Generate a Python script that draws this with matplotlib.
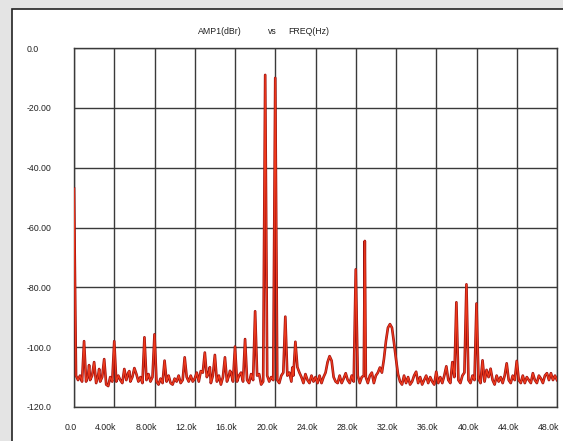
import numpy as np
import matplotlib
matplotlib.use("Agg")
import matplotlib.pyplot as plt
from matplotlib.patches import Rectangle
from matplotlib.transforms import ScaledTranslation

plt.rcParams['font.family'] = ['Liberation Sans', 'DejaVu Sans']

# Nivel de ruido de fondo (dBr), una muestra cada 200 Hz, de 0 a 48 kHz
noise_floor = [
    # 0.0k - 3.8k
    -110, -109.5, -111, -109.5, -111.5, -110, -111.5, -109.5, -111, -109.5,
    -111, -112, -109.5, -111.5, -110, -112, -112.5, -113, -110, -111.5,
    # 4.0k - 7.8k
    -110, -111.5, -109.5, -111, -112, -109.5, -111, -108.5, -111.5, -110,
    -112, -109, -111.5, -110, -112, -109.5, -111, -109, -111.5, -110,
    # 8.0k - 11.8k
    -110, -111.5, -112.5, -110.5, -112, -109, -111.5, -109.5, -112, -112.5,
    -110.5, -111.5, -109.5, -112, -111, -112.5, -110, -111.5, -109.5, -111.5,
    # 12.0k - 15.8k
    -110.5, -108.5, -111.5, -109.5, -108.5, -111.5, -110, -108.5, -112, -109.5,
    -108.5, -111.5, -109.5, -112.5, -110, -108.5, -111.5, -109.5, -108.5, -111.5,
    # 16.0k - 19.8k
    -110, -111.5, -109.5, -108.5, -111.5, -109.5, -111, -112, -109, -111,
    -111.5, -109.5, -109, -112.5, -111.5, -110, -109.5, -111.5, -110, -111,
    # 20.0k - 23.8k
    -110, -111, -112, -109.5, -108.5, -111, -109.5, -108.5, -111.5, -109.5,
    -111, -106.7, -108.5, -110, -112, -109, -111, -112, -109.5, -111.5,
    # 24.0k - 27.8k
    -110, -112, -109.5, -112, -110, -108.5, -105, -103, -104.5, -110,
    -111.5, -112, -109.5, -112, -110.5, -108.7, -111, -112, -109.5, -111.5,
    # 28.0k - 31.8k
    -110, -109.5, -112, -110, -109.5, -110, -112, -109.5, -108.5, -112,
    -109.5, -108.5, -106.8, -108.5, -104, -98, -93.5, -92.3, -93.5, -98.5,
    # 32.0k - 35.8k
    -104, -109, -111.5, -112.5, -109.5, -112, -110, -112.5, -111.5, -109.5,
    -108.2, -112, -110, -112.5, -111, -109.5, -112, -110, -111.5, -112.5,
    # 36.0k - 39.8k
    -108.2, -112, -110, -112, -109.5, -106.4, -111, -112, -105, -110,
    -110, -111, -112, -109.5, -108.5, -110, -111, -112, -109.5, -111,
    # 40.0k - 43.8k
    -110, -110.5, -112, -104.4, -111.5, -107.6, -110, -107.2, -111, -112.5,
    -109.5, -111.5, -110, -112, -109.5, -105.4, -111, -112, -109.5, -111,
    # 44.0k - 47.8k
    -104.6, -111, -112, -109.5, -112, -110, -111, -112, -108.7, -111,
    -112, -109.5, -110.5, -112, -109.5, -108.7, -111, -108.7, -111, -109.5,
    # 48.0k
    -111,
]

# Componentes discretas (Hz, dBr)
peak_freq = [0, 1000, 1500, 2000, 2500, 3000, 4000, 5000, 5500, 6000,
             7000, 8000, 9000, 11000, 12600, 13000, 13500, 14000, 15000, 15500,
             16000, 17000, 18000, 19000, 20000, 21000, 21700, 22000, 28000, 28900,
             38000, 39000, 40000]
peak_db = [-47, -98, -106, -105, -107.3, -104, -98, -107.3, -108, -107,
           -96.7, -95.7, -104.5, -103.4, -108, -101.8, -106.7, -102.6, -103.4, -107.9,
           -99.8, -97.3, -88, -9, -10, -89.8, -106.8, -98.2, -74, -64.5,
           -85, -79, -85.4]

x_ticks = [0, 4000, 8000, 12000, 16000, 20000, 24000, 28000, 32000, 36000, 40000, 44000, 48000]
x_labels = ["0.0", "4.00k", "8.00k", "12.0k", "16.0k", "20.0k", "24.0k",
            "28.0k", "32.0k", "36.0k", "40.0k", "44.0k", "48.0k"]
y_ticks = [0, -20, -40, -60, -80, -100, -120]
y_labels = ["0.0", "-20.00", "-40.00", "-60.00", "-80.00", "-100.0", "-120.0"]

# Juntamos ruido y picos en un solo espectro ordenado
spectrum = dict(zip(np.arange(len(noise_floor)) * 200, noise_floor))
spectrum.update(zip(peak_freq, peak_db))
freqs = np.array(sorted(spectrum))
levels = np.array([spectrum[f] for f in freqs])

fig = plt.figure(figsize=(5.63, 4.41), dpi=100, facecolor='#e4e4e4')
marco = Rectangle((12 / 563, -0.05), 1.2, 1 - 9 / 441 + 0.05,
                  transform=fig.transFigure, facecolor='white',
                  edgecolor='#222222', linewidth=1.2, zorder=-10)
fig.add_artist(marco)

ax = fig.add_axes([74 / 563, 1 - 407 / 441, 483 / 563, 359 / 441])
ax.set_facecolor('white')

# Traza: borde oscuro y centro rojo, como en la impresión
ax.plot(freqs, levels, color='#9c1010', linewidth=1.9, zorder=3)
ax.plot(freqs, levels, color='#ee3a1c', linewidth=0.9, zorder=4)

ax.set_xlim(0, 48000)
ax.set_ylim(-120, 0)
ax.set_xticks(x_ticks)
ax.set_xticklabels(x_labels)
ax.set_yticks(y_ticks)
ax.set_yticklabels(y_labels, ha='left')
ax.grid(True, color='#3a3a3a', linewidth=1.0)
for s in ax.spines.values():
    s.set_color('#3a3a3a')
    s.set_linewidth(1.0)

ax.tick_params(axis='y', length=0, pad=33.8, labelsize=6.3, labelcolor='#222222')
ax.tick_params(axis='x', length=0, pad=11.5, labelsize=6.3, labelcolor='#222222')
for lab in ax.get_xticklabels():
    lab.set_horizontalalignment('right')
    lab.set_transform(lab.get_transform() + ScaledTranslation(0.025, 0, fig.dpi_scale_trans))

# Título en tres partes
fig.text(219.6 / 563, 1 - 32 / 441, "AMP1(dBr)", ha='center', va='center', fontsize=6.3, color='#222222')
fig.text(272.5 / 563, 1 - 32 / 441, "vs", ha='center', va='center', fontsize=6.3, color='#222222')
fig.text(309 / 563, 1 - 32 / 441, "FREQ(Hz)", ha='center', va='center', fontsize=6.3, color='#222222')

fig.savefig("out.png", dpi=100, facecolor=fig.get_facecolor())
